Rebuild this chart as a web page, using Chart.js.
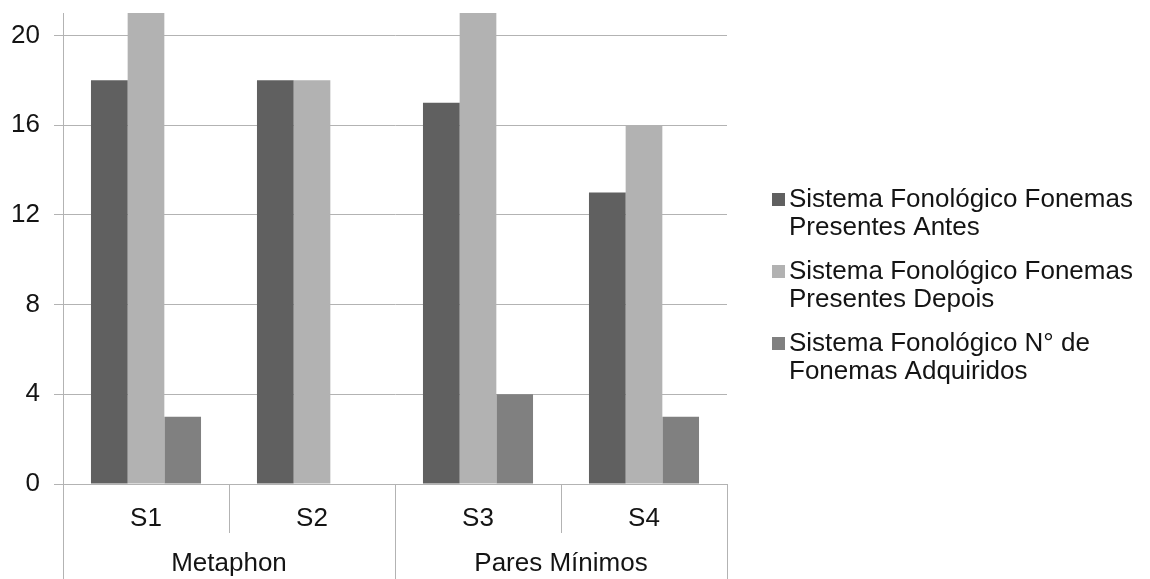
<!DOCTYPE html>
<html>
<head>
<meta charset="utf-8">
<script src="https://cdn.jsdelivr.net/npm/chart.js@4/dist/chart.umd.min.js"></script>
<style>
  html, body { margin: 0; padding: 0; background: #ffffff; }
  #wrap { width: 1150px; height: 579px; }
</style>
</head>
<body>
<div id="wrap"><canvas id="chart" width="1150" height="579"></canvas></div>
<script>
// Subjects on the x axis and the therapy groups they belong to
const categories = ['S1', 'S2', 'S3', 'S4'];
const groups = ['Metaphon', 'Pares Mínimos'];
const groupSizes = [2, 2];

// Phoneme counts per subject
const antes = [18, 18, 17, 13];
const depois = [21, 18, 21, 16];
const adquiridos = [3, 0, 4, 3];

// Legend names, split into the lines they are written on
const seriesLines = [
  ['Sistema Fonológico Fonemas', 'Presentes Antes'],
  ['Sistema Fonológico Fonemas', 'Presentes Depois'],
  ['Sistema Fonológico N° de', 'Fonemas Adquiridos']
];
const seriesColors = ['#606060', '#b2b2b2', '#808080'];

// Value axis
const yMin = 0;
const yMax = 21;
const yStep = 4;

const FONT = '"Liberation Sans", Arial, sans-serif';
const TEXT = '#141414';
const LINE = '#b3b3b3';

const seriesValues = [antes, depois, adquiridos];

// Group labels under the subject labels, plus the separators between cells
const groupAxisPlugin = {
  id: 'groupAxis',
  afterDraw(chart) {
    const ctx = chart.ctx;
    const x = chart.scales.x;
    const area = chart.chartArea;
    const bottom = chart.height;
    const half = (x.getPixelForValue(1) - x.getPixelForValue(0)) / 2;
    ctx.save();
    ctx.strokeStyle = LINE;
    ctx.lineWidth = 1;
    let idx = 0;
    const groupEdges = [0];
    groupSizes.forEach(n => { idx += n; groupEdges.push(idx); });
    for (let i = 0; i <= categories.length; i++) {
      const px = Math.round(x.getPixelForValue(i) - half) + 0.5;
      const full = groupEdges.includes(i);
      ctx.beginPath();
      ctx.moveTo(px, area.bottom);
      ctx.lineTo(px, full ? bottom : area.bottom + 49);
      ctx.stroke();
    }
    ctx.fillStyle = TEXT;
    ctx.font = '26px ' + FONT;
    ctx.textAlign = 'center';
    ctx.textBaseline = 'middle';
    groups.forEach((g, gi) => {
      const a = x.getPixelForValue(groupEdges[gi]) - half;
      const b = x.getPixelForValue(groupEdges[gi + 1]) - half;
      ctx.fillText(g, (a + b) / 2, area.bottom + 80);
    });
    ctx.restore();
  }
};

// Two-line legend on the right
const sideLegendPlugin = {
  id: 'sideLegend',
  afterDraw(chart) {
    const ctx = chart.ctx;
    ctx.save();
    ctx.font = '26px ' + FONT;
    ctx.textBaseline = 'middle';
    ctx.textAlign = 'left';
    chart.data.datasets.forEach((ds, i) => {
      const y0 = 200 + i * 72;
      ctx.fillStyle = ds.backgroundColor;
      ctx.fillRect(772, y0 - 7, 13, 13);
      ctx.fillStyle = TEXT;
      seriesLines[i].forEach((line, li) => {
        ctx.fillText(line, 789, y0 + li * 28);
      });
    });
    ctx.restore();
  }
};

new Chart(document.getElementById('chart'), {
  type: 'bar',
  data: {
    labels: categories,
    datasets: seriesLines.map((lines, i) => ({
      label: lines.join(' '),
      data: seriesValues[i],
      backgroundColor: seriesColors[i],
      borderWidth: 0,
      categoryPercentage: 0.663,
      barPercentage: 1.0
    }))
  },
  options: {
    responsive: false,
    devicePixelRatio: 1,
    animation: false,
    layout: { padding: { top: 13, right: 423, left: 0, bottom: 0 } },
    plugins: {
      legend: { display: false },
      tooltip: { enabled: false }
    },
    scales: {
      x: {
        offset: true,
        grid: { display: false, drawOnChartArea: false, drawTicks: false },
        border: { display: false },
        ticks: { color: TEXT, font: { family: FONT, size: 26 }, padding: 19 },
        afterFit(scale) {
          scale.height = 95;
          scale.paddingLeft = 0;
          scale.paddingRight = 0;
        }
      },
      y: {
        min: yMin,
        max: yMax,
        grid: { color: LINE, lineWidth: 1, tickLength: 9, drawTicks: true },
        border: { display: true, color: LINE, width: 1 },
        ticks: {
          stepSize: yStep,
          includeBounds: false,
          color: TEXT,
          font: { family: FONT, size: 26 },
          padding: 14
        },
        afterFit(scale) {
          scale.width = 63;
          scale.paddingTop = 0;
          scale.paddingBottom = 0;
        }
      }
    }
  },
  plugins: [groupAxisPlugin, sideLegendPlugin]
});
</script>
</body>
</html>
